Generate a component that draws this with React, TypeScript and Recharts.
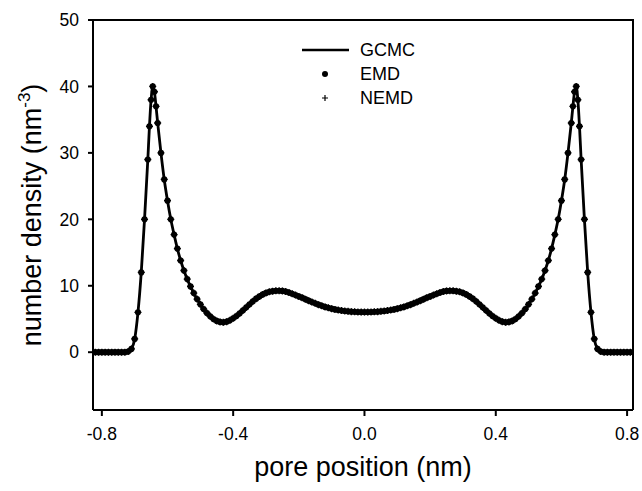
import { ComposedChart, Line, Scatter, XAxis, YAxis } from 'recharts';

// pore position (nm)
const positions = [
  -0.82, -0.81, -0.8, -0.79, -0.78, -0.77, -0.76, -0.75, -0.74, -0.73,
  -0.72, -0.71, -0.7, -0.69, -0.68, -0.67, -0.66, -0.655, -0.65, -0.645,
  -0.64, -0.635, -0.63, -0.62, -0.61, -0.6, -0.59, -0.58, -0.57, -0.56,
  -0.55, -0.54, -0.53, -0.52, -0.51, -0.5, -0.49, -0.48, -0.47, -0.46,
  -0.45, -0.44, -0.43, -0.42, -0.41, -0.4, -0.39, -0.38, -0.37, -0.36,
  -0.35, -0.34, -0.33, -0.32, -0.31, -0.3, -0.29, -0.28, -0.27, -0.26,
  -0.25, -0.24, -0.23, -0.22, -0.21, -0.2, -0.19, -0.18, -0.17, -0.16,
  -0.15, -0.14, -0.13, -0.12, -0.11, -0.1, -0.09, -0.08, -0.07, -0.06,
  -0.05, -0.04, -0.03, -0.02, -0.01, 0,
  0.01, 0.02, 0.03, 0.04, 0.05, 0.06, 0.07, 0.08, 0.09, 0.1,
  0.11, 0.12, 0.13, 0.14, 0.15, 0.16, 0.17, 0.18, 0.19, 0.2,
  0.21, 0.22, 0.23, 0.24, 0.25, 0.26, 0.27, 0.28, 0.29, 0.3,
  0.31, 0.32, 0.33, 0.34, 0.35, 0.36, 0.37, 0.38, 0.39, 0.4,
  0.41, 0.42, 0.43, 0.44, 0.45, 0.46, 0.47, 0.48, 0.49, 0.5,
  0.51, 0.52, 0.53, 0.54, 0.55, 0.56, 0.57, 0.58, 0.59, 0.6,
  0.61, 0.62, 0.63, 0.635, 0.64, 0.645, 0.65, 0.655, 0.66, 0.67,
  0.68, 0.69, 0.7, 0.71, 0.72, 0.73, 0.74, 0.75, 0.76, 0.77,
  0.78, 0.79, 0.8, 0.81, 0.82,
];

// number density (nm^-3), GCMC profile
const gcmcDensity = [
  0, 0, 0, 0, 0, 0, 0, 0, 0, 0,
  0.1, 0.5, 2, 6, 12, 20, 29, 34, 38, 40,
  39.2, 37, 34.5, 30, 26, 22.8, 20, 17.7, 15.6, 13.8,
  12.3, 11, 9.9, 8.9, 8.0, 7.2, 6.5, 5.9, 5.4, 5.0,
  4.7, 4.55, 4.5, 4.6, 4.8, 5.1, 5.45, 5.85, 6.3, 6.75,
  7.22, 7.65, 8.05, 8.4, 8.7, 8.92, 9.08, 9.18, 9.24, 9.25,
  9.22, 9.12, 8.98, 8.8, 8.6, 8.4, 8.2, 7.98, 7.76, 7.55,
  7.35, 7.15, 6.98, 6.82, 6.68, 6.55, 6.44, 6.35, 6.27, 6.2,
  6.15, 6.1, 6.07, 6.05, 6.04, 6.04,
  6.04, 6.05, 6.07, 6.1, 6.15, 6.2, 6.27, 6.35, 6.44, 6.55,
  6.68, 6.82, 6.98, 7.15, 7.35, 7.55, 7.76, 7.98, 8.2, 8.4,
  8.6, 8.8, 8.98, 9.12, 9.22, 9.25, 9.24, 9.18, 9.08, 8.92,
  8.7, 8.4, 8.05, 7.65, 7.22, 6.75, 6.3, 5.85, 5.45, 5.1,
  4.8, 4.6, 4.5, 4.55, 4.7, 5.0, 5.4, 5.9, 6.5, 7.2,
  8.0, 8.9, 9.9, 11, 12.3, 13.8, 15.6, 17.7, 20, 22.8,
  26, 30, 34.5, 37, 39.2, 40, 38, 34, 29, 20,
  12, 6, 2, 0.5, 0.1, 0, 0, 0, 0, 0,
  0, 0, 0, 0, 0,
];

// EMD and NEMD points sit on top of the GCMC curve
const emdDensity = gcmcDensity;
const nemdDensity = gcmcDensity;

const xTicks = [-0.8, -0.4, 0, 0.4, 0.8];
const yTicks = [0, 10, 20, 30, 40, 50];
const xDomain = [-0.827, 0.818];
const yDomain = [-8.7, 50];

const FONT = '"Liberation Sans", Arial, Helvetica, sans-serif';

const data = positions.map((x, i) => ({
  x,
  gcmc: gcmcDensity[i],
  emd: emdDensity[i],
  nemd: nemdDensity[i],
}));

const Dot = (props: any) => <circle cx={props.cx} cy={props.cy} r={3.1} fill="#000" />;

const Plus = (props: any) => (
  <path
    d={`M${props.cx - 3.5},${props.cy}H${props.cx + 3.5}M${props.cx},${props.cy - 3.5}V${props.cy + 3.5}`}
    stroke="#000"
    strokeWidth={1.3}
  />
);

const YTitle = (props: any) => {
  const { viewBox } = props;
  const cy = viewBox.y + viewBox.height / 2;
  return (
    <text
      x={0}
      y={0}
      transform={`translate(41, ${cy}) rotate(-90)`}
      textAnchor="middle"
      fontFamily={FONT}
      fontSize={27}
      fill="#000"
    >
      number density (nm
      <tspan fontSize={17} dy={-11}>-3</tspan>
      <tspan dy={11}>)</tspan>
    </text>
  );
};

const XTitle = (props: any) => {
  const { viewBox } = props;
  return (
    <text
      x={viewBox.x + viewBox.width / 2}
      y={476}
      textAnchor="middle"
      fontFamily={FONT}
      fontSize={27}
      fill="#000"
    >
      pore position (nm)
    </text>
  );
};

// top/right frame plus the legend, laid over the chart
const Overlay = () => (
  <svg
    width={642}
    height={491}
    style={{ position: 'absolute', left: 0, top: 0, pointerEvents: 'none' }}
  >
    <path d="M92,20H633V410" fill="none" stroke="#000" strokeWidth={2} />
    <g transform="translate(298, 38)">
      <line x1={4} y1={12} x2={51} y2={12} stroke="#000" strokeWidth={2.5} />
      <text x={62} y={18} fontFamily={FONT} fontSize={18} fill="#000">GCMC</text>
      <circle cx={27} cy={36} r={3} fill="#000" />
      <text x={62} y={42} fontFamily={FONT} fontSize={18} fill="#000">EMD</text>
      <path d="M24,60H30M27,57V63" stroke="#000" strokeWidth={1.2} />
      <text x={62} y={66} fontFamily={FONT} fontSize={18} fill="#000">NEMD</text>
    </g>
  </svg>
);

export default function App() {
  return (
    <div style={{ position: 'relative', width: 642, height: 491 }}>
      <style>{'body { margin: 0; }'}</style>
      <ComposedChart
        width={642}
        height={491}
        data={data}
        margin={{ top: 20, right: 9, left: 33, bottom: 21 }}
        style={{ fontFamily: FONT }}
      >
        <XAxis
          dataKey="x"
          type="number"
          domain={xDomain}
          ticks={xTicks}
          tickFormatter={(v: number) => v.toFixed(1)}
          allowDataOverflow
          height={60}
          stroke="#000"
          strokeWidth={2}
          tickSize={6}
          tickMargin={12}
          tick={{ fill: '#000', fontSize: 17.5, fontFamily: FONT }}
          label={{ content: XTitle }}
        />
        <YAxis
          type="number"
          domain={yDomain}
          ticks={yTicks}
          allowDataOverflow
          width={60}
          stroke="#000"
          strokeWidth={2}
          tickSize={5}
          tickMargin={9}
          tick={{ fill: '#000', fontSize: 17.5, fontFamily: FONT }}
          label={{ content: YTitle }}
        />
        <Line
          dataKey="gcmc"
          type="monotone"
          stroke="#000"
          strokeWidth={2.8}
          dot={false}
          activeDot={false}
          isAnimationActive={false}
        />
        <Scatter dataKey="nemd" shape={Plus} isAnimationActive={false} />
        <Scatter dataKey="emd" shape={Dot} isAnimationActive={false} />
      </ComposedChart>
      <Overlay />
    </div>
  );
}
